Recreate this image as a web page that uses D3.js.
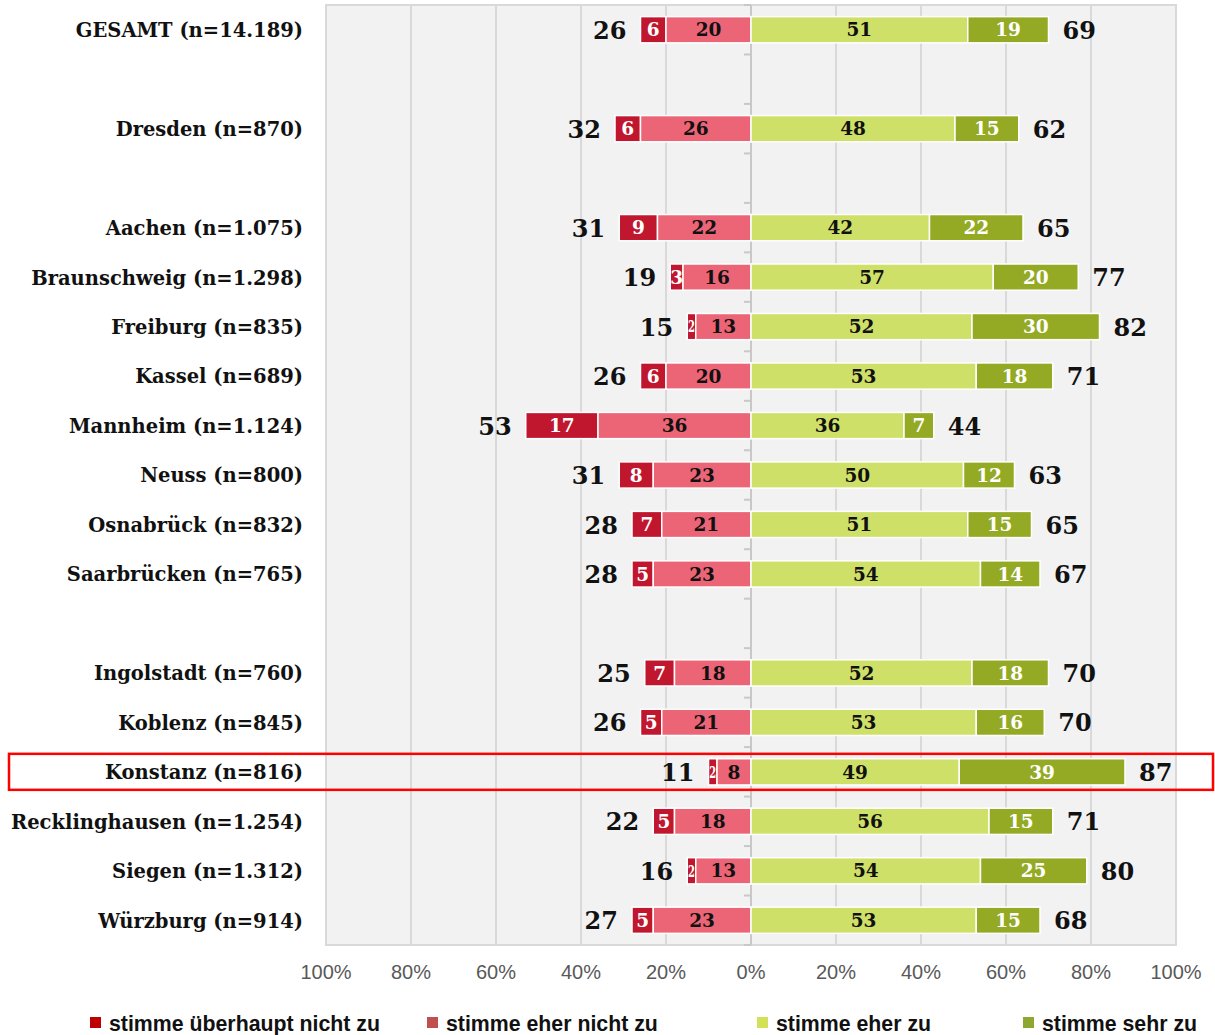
<!DOCTYPE html>
<html><head><meta charset="utf-8">
<script src="https://cdn.jsdelivr.net/npm/d3@7"></script>
<style>body{margin:0;background:#fff}</style>
</head><body>
<svg id="c" width="1215" height="1035"></svg>
<script>
const categories = ["GESAMT (n=14.189)", "", "Dresden (n=870)", "", "Aachen (n=1.075)", "Braunschweig (n=1.298)", "Freiburg (n=835)", "Kassel (n=689)", "Mannheim (n=1.124)", "Neuss (n=800)", "Osnabrück (n=832)", "Saarbrücken (n=765)", "", "Ingolstadt (n=760)", "Koblenz (n=845)", "Konstanz (n=816)", "Recklinghausen (n=1.254)", "Siegen (n=1.312)", "Würzburg (n=914)"];
const stronglyDisagree = [6, null, 6, null, 9, 3, 2, 6, 17, 8, 7, 5, null, 7, 5, 2, 5, 2, 5];
const ratherDisagree   = [20, null, 26, null, 22, 16, 13, 20, 36, 23, 21, 23, null, 18, 21, 8, 18, 13, 23];
const ratherAgree      = [51, null, 48, null, 42, 57, 52, 53, 36, 50, 51, 54, null, 52, 53, 49, 56, 54, 53];
const stronglyAgree    = [19, null, 15, null, 22, 20, 30, 18, 7, 12, 15, 14, null, 18, 16, 39, 15, 25, 15];
const totalDisagree    = [26, null, 32, null, 31, 19, 15, 26, 53, 31, 28, 28, null, 25, 26, 11, 22, 16, 27];
const totalAgree       = [69, null, 62, null, 65, 77, 82, 71, 44, 63, 65, 67, null, 70, 70, 87, 71, 80, 68];
const xTicks = [-100, -80, -60, -40, -20, 0, 20, 40, 60, 80, 100];
const seriesNames = ["stimme überhaupt nicht zu", "stimme eher nicht zu", "stimme eher zu", "stimme sehr zu"];
const highlighted = "Konstanz (n=816)";

const svg = d3.select("#c");
const x = d3.scaleLinear().domain([-100, 100]).range([326, 1176]);
const y = d3.scaleBand().domain(d3.range(categories.length)).range([5, 945]).paddingInner(0.47).paddingOuter(0.235);
const step = y.step();

const serifF = "'DejaVu Serif', serif";
// plot background
svg.append("rect").attr("x", x(-100)).attr("y", 5).attr("width", x(100) - x(-100)).attr("height", 940)
  .attr("fill", "#f2f2f2").attr("stroke", "#d9d9d9").attr("stroke-width", 2);
// gridlines
svg.append("g").selectAll("line").data(xTicks.filter(d => d !== 0 && Math.abs(d) !== 100)).join("line")
  .attr("x1", d => x(d)).attr("x2", d => x(d)).attr("y1", 5).attr("y2", 945)
  .attr("stroke", "#d9d9d9").attr("stroke-width", 2);
// zero axis
svg.append("line").attr("x1", x(0)).attr("x2", x(0)).attr("y1", 5).attr("y2", 945).attr("stroke", "#c8c8c8").attr("stroke-width", 2);
svg.append("g").selectAll("line").data(d3.range(categories.length + 1)).join("line")
  .attr("x1", x(0) - 7).attr("x2", x(0)).attr("y1", i => 5 + i * step).attr("y2", i => 5 + i * step)
  .attr("stroke", "#c8c8c8").attr("stroke-width", 2);

// highlight box
const hi = categories.indexOf(highlighted);
svg.append("rect").attr("x", 9).attr("y", y(hi) + y.bandwidth() / 2 - 18).attr("width", 1204).attr("height", 36)
  .attr("fill", "none").attr("stroke", "#ff0000").attr("stroke-width", 2.5);

const colors = ["#c0172f", "#ec6577", "#cfe068", "#95aa24"];
const textCol = ["#fff", "#111", "#111", "#fff"];
const rows = categories.map((c, i) => ({c, i, v: [stronglyDisagree[i], ratherDisagree[i], ratherAgree[i], stronglyAgree[i]]})).filter(r => r.c !== "");

const g = svg.append("g");
rows.forEach(r => {
  const segs = [
    {k: 0, a: -(r.v[0] + r.v[1]), b: -r.v[1], v: r.v[0]},
    {k: 1, a: -r.v[1], b: 0, v: r.v[1]},
    {k: 2, a: 0, b: r.v[2], v: r.v[2]},
    {k: 3, a: r.v[2], b: r.v[2] + r.v[3], v: r.v[3]}
  ];
  const yy = y(r.i), h = y.bandwidth();
  segs.forEach(s => {
    g.append("rect").attr("x", x(s.a)).attr("y", yy).attr("width", x(s.b) - x(s.a)).attr("height", h)
      .attr("fill", colors[s.k]).attr("stroke", "#fff").attr("stroke-width", 1.5);
    const t = g.append("text").attr("x", (x(s.a) + x(s.b)) / 2).attr("y", yy + h / 2).attr("dy", "0.36em")
      .attr("text-anchor", "middle").attr("font-family", serifF).attr("font-weight", "bold")
      .attr("font-size", 18.5).attr("fill", textCol[s.k]).text(s.v);
    if (s.v <= 2) t.attr("font-size", 16).attr("textLength", 7).attr("lengthAdjust", "spacingAndGlyphs");
  });
  g.append("text").attr("x", x(-(r.v[0] + r.v[1])) - 14).attr("y", yy + h / 2).attr("dy", "0.38em")
    .attr("text-anchor", "end").attr("font-family", serifF).attr("font-weight", "bold").attr("font-size", 24)
    .attr("fill", "#111").text(totalDisagree[r.i]);
  g.append("text").attr("x", x(r.v[2] + r.v[3]) + 14).attr("y", yy + h / 2).attr("dy", "0.38em")
    .attr("text-anchor", "start").attr("font-family", serifF).attr("font-weight", "bold").attr("font-size", 24)
    .attr("fill", "#111").text(totalAgree[r.i]);
  g.append("text").attr("x", 303).attr("y", yy + h / 2).attr("dy", "0.38em")
    .attr("text-anchor", "end").attr("font-family", serifF).attr("font-weight", "bold").attr("font-size", 19.5)
    .attr("fill", "#111").text(r.c);
});

// x-axis labels
svg.append("g").selectAll("text").data(xTicks).join("text")
  .attr("x", d => x(d)).attr("y", 972).attr("dy", "0.36em").attr("text-anchor", "middle")
  .attr("font-family", "'Liberation Sans Narrow', 'Liberation Sans', sans-serif").attr("font-size", 20)
  .attr("fill", "#595959").text(d => Math.abs(d) + "%");

// legend
const legCol = ["#c00000", "#c0504d", "#d4e157", "#8ea72e"];
const legX = [90, 427, 757, 1023];
const lg = svg.append("g").selectAll("g").data(seriesNames).join("g").attr("transform", (d, i) => `translate(${legX[i]},1023)`);
lg.append("rect").attr("x", 0).attr("y", -6).attr("width", 11).attr("height", 11).attr("fill", (d, i) => legCol[i]);
lg.append("text").attr("x", 19).attr("y", 0).attr("dy", "0.36em").attr("font-family", "'Liberation Sans', Arial, sans-serif")
  .attr("font-weight", "bold").attr("font-size", 21.3).attr("fill", "#111").text(d => d);
</script>
</body></html>
